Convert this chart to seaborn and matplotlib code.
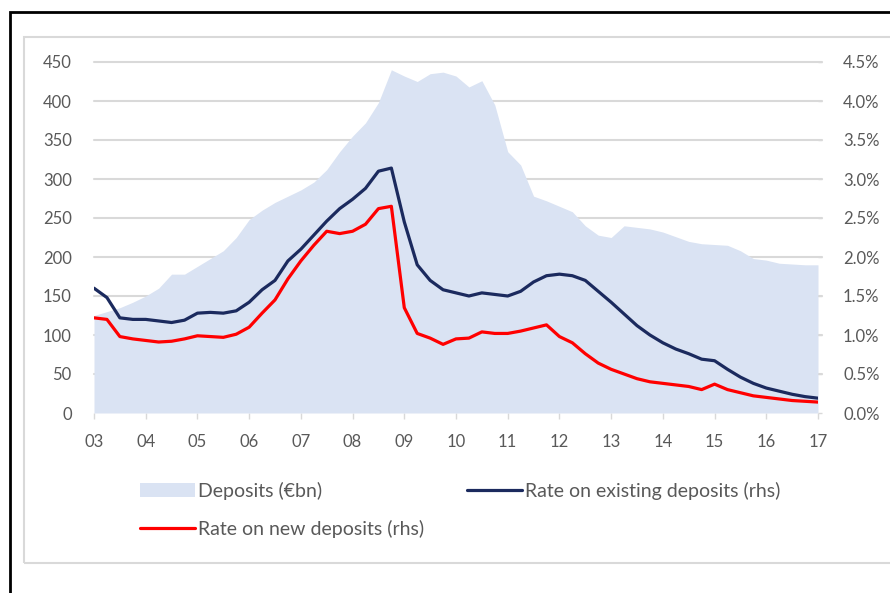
import numpy as np
import pandas as pd
import matplotlib
matplotlib.use("Agg")
import matplotlib.pyplot as plt
import seaborn as sns
from matplotlib.patches import Patch, Rectangle
from matplotlib.lines import Line2D
from matplotlib.ticker import FuncFormatter

# quarterly readings, Q1 2003 .. Q1 2017
quarters = [2003 + i * 0.25 for i in range(57)]

deposits = [125, 130, 135, 142, 150, 160, 178, 178, 188, 198, 208, 225,
            248, 260, 270, 278, 286, 296, 312, 335, 355, 372, 398, 440,
            432, 425, 435, 437, 432, 418, 426, 395, 335, 318, 278, 272,
            265, 258, 240, 228, 225, 240, 238, 236, 232, 226, 220, 217,
            216, 215, 208, 198, 196, 192, 191, 190, 190]

rate_existing = [1.60, 1.48, 1.22, 1.20, 1.20, 1.18, 1.16, 1.19, 1.28, 1.29, 1.28, 1.31,
                 1.42, 1.58, 1.70, 1.95, 2.10, 2.28, 2.46, 2.62, 2.74, 2.88, 3.10, 3.14,
                 2.45, 1.90, 1.70, 1.58, 1.54, 1.50, 1.54, 1.52, 1.50, 1.56, 1.68, 1.76,
                 1.78, 1.76, 1.70, 1.56, 1.42, 1.27, 1.12, 1.00, 0.90, 0.82, 0.76, 0.69,
                 0.67, 0.56, 0.46, 0.38, 0.32, 0.28, 0.24, 0.21, 0.19]

rate_new = [1.22, 1.20, 0.98, 0.95, 0.93, 0.91, 0.92, 0.95, 0.99, 0.98, 0.97, 1.01,
            1.10, 1.28, 1.45, 1.72, 1.95, 2.15, 2.33, 2.30, 2.33, 2.42, 2.62, 2.65,
            1.35, 1.02, 0.96, 0.88, 0.95, 0.96, 1.04, 1.02, 1.02, 1.05, 1.09, 1.13,
            0.98, 0.90, 0.76, 0.64, 0.56, 0.50, 0.44, 0.40, 0.38, 0.36, 0.34, 0.30,
            0.37, 0.30, 0.26, 0.22, 0.20, 0.18, 0.16, 0.15, 0.14]

year_ticks = list(range(2003, 2018))
year_labels = ["%02d" % (y % 100) for y in year_ticks]

df = pd.DataFrame({"t": quarters, "Deposits": deposits,
                   "Existing": rate_existing, "New": rate_new})

sns.set_style("white")
plt.rcParams["font.family"] = ["Lato", "DejaVu Sans"]

AREA = "#dae3f3"
NAVY = "#1b2a5e"
RED = "#ff0000"
GREY = "#595959"
GRID = "#d9d9d9"

fig = plt.figure(figsize=(8.9, 5.93), dpi=100)

# outer black frame and inner grey panel
fig.patches.append(Rectangle((10 / 890, -0.1), 1.2, 1 - 12 / 593 + 0.1, transform=fig.transFigure,
                             fill=False, edgecolor="black", linewidth=2))
fig.patches.append(Rectangle((24 / 890, 1 - 563 / 593), 1.2, (563 - 37) / 593, transform=fig.transFigure,
                             fill=False, edgecolor=GRID, linewidth=1.5))

ax = fig.add_axes([94 / 890, 1 - 413 / 593, (818 - 94) / 890, (413 - 62) / 593])
ax.set_facecolor("none")
ax.fill_between(df["t"], 0, df["Deposits"], color=AREA, linewidth=0, zorder=2)
ax.set_xlim(2003, 2017)
ax.set_ylim(0, 450)
ax.set_yticks(range(0, 451, 50))
for v in range(50, 451, 50):
    ax.axhline(v, color=GRID, linewidth=1.5, zorder=1, xmax=1.005, clip_on=False)
ax.set_xticks(year_ticks)
ax.set_xticklabels(year_labels)
for s in ax.spines.values():
    s.set_visible(False)
ax.tick_params(axis="y", length=0, pad=16, labelsize=12, labelcolor=GREY)
ax.tick_params(axis="x", length=4, width=1, color=GRID, direction="out", pad=11,
               labelsize=12, labelcolor=GREY, bottom=True)

ax2 = ax.twinx()
sns.lineplot(data=df, x="t", y="Existing", ax=ax2, color=NAVY, linewidth=2.3, zorder=3)
sns.lineplot(data=df, x="t", y="New", ax=ax2, color=RED, linewidth=2.3, zorder=3)
ax2.set_ylim(0, 4.5)
ax2.set_yticks(np.arange(0, 4.51, 0.5))
ax2.yaxis.set_major_formatter(FuncFormatter(lambda v, p: "%.1f%%" % v))
ax2.set_xlabel("")
ax2.set_ylabel("")
ax.set_xlabel("")
for s in ax2.spines.values():
    s.set_visible(False)
ax2.tick_params(axis="y", right=True, length=3, width=1, color=GRID, direction="out", pad=15,
                labelsize=12, labelcolor=GREY)

h_dep = Patch(facecolor=AREA, edgecolor="none", label="Deposits (€bn)")
h_new = Line2D([], [], color=RED, linewidth=2.3, label="Rate on new deposits (rhs)")
h_ex = Line2D([], [], color=NAVY, linewidth=2.3, label="Rate on existing deposits (rhs)")

leg_kw = dict(frameon=False, fontsize=14, handlelength=2.85, handletextpad=0.12,
              borderpad=0, borderaxespad=0, labelspacing=1.0, labelcolor=GREY)
fig.legend(handles=[h_dep, h_new], loc="upper left",
           bbox_to_anchor=(140 / 890, 1 - 482 / 593), **leg_kw)
fig.legend(handles=[h_ex], loc="upper left",
           bbox_to_anchor=(467 / 890, 1 - 482 / 593), **leg_kw)

plt.savefig("out.png", dpi=100)
